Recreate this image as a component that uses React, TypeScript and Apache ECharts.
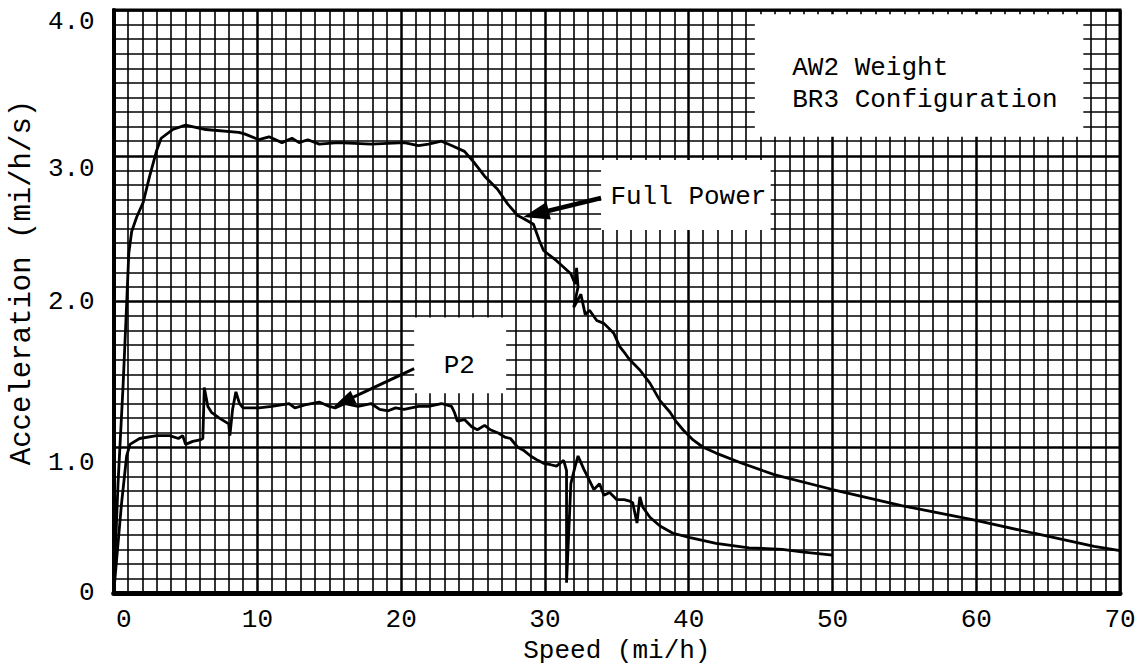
import React, { useEffect, useRef } from 'react';
import * as echarts from 'echarts';

// ---- data ----
const xTicks = [0, 10, 20, 30, 40, 50, 60, 70];
const yTickLabels = ['0', '1.0', '2.0', '3.0', '4.0'];
const xName = 'Speed (mi/h)';
const yName = 'Acceleration (mi/h/s)';

const fullPowerSpeed = [
  0, 0.3, 0.65, 0.85, 1.05, 1.25, 1.6, 2.05, 2.5, 3.0, 3.3, 4.1, 5.0, 6.4, 8.7, 9.1,
  10.1, 10.8, 11.7, 12.4, 12.9, 13.5, 14.3, 15.6, 17.9, 20.2, 21.2, 21.9, 22.8, 23.5,
  24.4, 25.1, 25.8, 26.7, 27.4, 28.1, 28.5, 29.2, 29.6, 29.9, 30.8, 31.8, 32.1, 32.2,
  32.3, 32.0, 32.5, 32.8, 33.1, 33.6, 34.1, 34.8, 35.2, 35.6, 35.9, 36.6, 37.3, 38.0,
  38.7, 39.1, 39.6, 40.3, 41.0, 41.9, 43.7, 46.0, 50.0, 54.8, 59.9, 64.0, 68.2, 70.0,
];
const fullPowerAccel = [
  0, 0.75, 1.42, 1.87, 2.33, 2.48, 2.58, 2.68, 2.86, 3.04, 3.12, 3.18, 3.21, 3.18, 3.16, 3.15,
  3.11, 3.13, 3.09, 3.12, 3.09, 3.11, 3.08, 3.09, 3.08, 3.09, 3.07, 3.08, 3.10, 3.07,
  3.03, 2.95, 2.86, 2.77, 2.67, 2.59, 2.57, 2.53, 2.42, 2.35, 2.28, 2.19, 2.12, 2.23,
  2.10, 1.96, 2.05, 1.91, 1.94, 1.87, 1.85, 1.78, 1.69, 1.64, 1.60, 1.53, 1.44, 1.32,
  1.24, 1.18, 1.12, 1.05, 1.00, 0.96, 0.89, 0.81, 0.71, 0.60, 0.50, 0.41, 0.32, 0.29,
];

const p2Speed = [
  0, 0.55, 0.9, 1.13, 1.8, 3.0, 3.9, 4.5, 4.8, 5.0, 5.5, 6.0, 6.2, 6.3, 6.55, 6.8, 7.35,
  8.0, 8.08, 8.27, 8.5, 8.75, 9.0, 10.1, 11.0, 12.2, 12.6, 13.3, 14.3, 15.0, 15.4, 16.1,
  17.0, 17.9, 18.5, 19.1, 19.6, 20.2, 21.2, 21.9, 22.8, 23.5, 23.7, 23.9, 24.4, 24.9,
  25.3, 25.8, 26.2, 26.7, 27.2, 27.6, 28.1, 28.5, 29.0, 29.5, 29.9, 30.4, 30.8, 31.3,
  31.5, 31.5, 31.7, 31.8, 32.1, 32.3, 32.7, 33.2, 33.4, 33.8, 34.1, 34.5, 35.0, 35.5,
  35.9, 36.1, 36.4, 36.6, 36.8, 37.3, 38.0, 38.9, 40.1, 41.9, 44.2, 46.5, 48.0, 50.0,
];
const p2Accel = [
  0, 0.62, 0.94, 1.02, 1.06, 1.08, 1.08, 1.06, 1.08, 1.02, 1.04, 1.05, 1.06, 1.41, 1.28, 1.24, 1.20,
  1.16, 1.08, 1.26, 1.38, 1.30, 1.27, 1.27, 1.28, 1.30, 1.27, 1.29, 1.31, 1.28, 1.27, 1.30,
  1.28, 1.30, 1.26, 1.25, 1.27, 1.26, 1.28, 1.28, 1.30, 1.28, 1.24, 1.18, 1.19, 1.14,
  1.12, 1.15, 1.12, 1.10, 1.07, 1.06, 1.00, 0.98, 0.94, 0.91, 0.89, 0.88, 0.87, 0.91,
  0.84, 0.07, 0.52, 0.75, 0.87, 0.94, 0.85, 0.75, 0.71, 0.75, 0.67, 0.69, 0.64, 0.64,
  0.63, 0.62, 0.48, 0.66, 0.59, 0.52, 0.46, 0.41, 0.38, 0.34, 0.31, 0.30, 0.28, 0.26,
];

const noteFullPower = 'Full Power';
const noteP2 = 'P2';
const noteBox = ['AW2 Weight', 'BR3 Configuration'];

// ---- styles ----
const FONT = '"Liberation Mono", "Courier New", Courier, monospace';
const FS = 26;

export default function App() {
  const ref = useRef<HTMLDivElement>(null);

  useEffect(() => {
    const el = ref.current as HTMLDivElement;
    const chart = echarts.init(el, null, { renderer: 'svg' });

    const tok = (pad: number[]) => ({ fontFamily: FONT, fontSize: FS, color: '#000', padding: pad });
    const yRichName: Record<string, string> = { '4.0': 'a', '3.0': 'b', '2.0': 'n', '1.0': 'c', '0': 'n' };

    const option: any = {
      animation: false,
      backgroundColor: '#fff',
      grid: {
        left: 107, right: 21, top: 10, bottom: 77,
        show: true, borderColor: '#000', borderWidth: 3, backgroundColor: '#fff',
      },
      xAxis: {
        type: 'value', min: xTicks[0], max: xTicks[xTicks.length - 1], interval: 10,
        name: xName, nameLocation: 'middle', nameGap: 41,
        nameTextStyle: { fontFamily: FONT, fontSize: FS, color: '#000' },
        axisLine: { show: true, onZero: false, lineStyle: { color: '#000', width: 5 } },
        axisTick: { show: false },
        axisLabel: {
          margin: 14, fontFamily: FONT, fontSize: FS, color: '#000',
          formatter: (v: number) => (v === 0 ? '{z|0}' : '{n|' + String(v) + '}'),
          rich: { z: tok([0, 0, 0, 20]), n: tok([0, 0, 0, 0]) },
        },
        splitLine: { show: true, lineStyle: { color: '#000', width: 2.5 } },
        minorTick: { show: false, splitNumber: 10 },
        minorSplitLine: { show: true, lineStyle: { color: '#000', width: 1.6 } },
      },
      yAxis: {
        type: 'value', min: 0, max: 4, interval: 1,
        name: yName, nameLocation: 'middle', nameGap: 76,
        nameTextStyle: { fontFamily: FONT, fontSize: 29, color: '#000', padding: [0, 0, 0, 38] },
        axisLine: { show: true, onZero: false, lineStyle: { color: '#000', width: 4 } },
        axisTick: { show: false },
        axisLabel: {
          margin: 19, fontFamily: FONT, fontSize: FS, color: '#000',
          formatter: (v: number) => {
            const t = yTickLabels[Math.round(v)];
            return '{' + yRichName[t] + '|' + t + '}';
          },
          rich: {
            a: tok([24, 0, 0, 0]), b: tok([26, 0, 0, 0]), c: tok([32, 0, 0, 0]), n: tok([0, 0, 0, 0]),
          },
        },
        splitLine: { show: true, lineStyle: { color: '#000', width: 2.5 } },
        minorTick: { show: false, splitNumber: 10 },
        minorSplitLine: { show: true, lineStyle: { color: '#000', width: 1.6 } },
      },
      series: [
        {
          name: 'Full Power', type: 'line', showSymbol: false, symbol: 'none',
          data: fullPowerSpeed.map((v, i) => [v, fullPowerAccel[i]]),
          lineStyle: { color: '#000', width: 2.8 }, z: 5,
        },
        {
          name: 'P2', type: 'line', showSymbol: false, symbol: 'none',
          data: p2Speed.map((v, i) => [v, p2Accel[i]]),
          lineStyle: { color: '#000', width: 2.8 }, z: 5,
        },
      ],
    };
    chart.setOption(option);

    const px = (v: number, a: number) => chart.convertToPixel({ gridIndex: 0 }, [v, a]) as number[];
    const box = (v1: number, a1: number, v2: number, a2: number) => {
      const [x1, y1] = px(v1, a1);
      const [x2, y2] = px(v2, a2);
      return { type: 'rect', shape: { x: x1, y: y1, width: x2 - x1, height: y2 - y1 }, style: { fill: '#fff' }, z: 10 };
    };
    const text = (t: string, v: number, a: number) => {
      const [x, y] = px(v, a);
      return {
        type: 'text', x, y, z: 15,
        style: { text: t, fontFamily: FONT, fontSize: FS, fill: '#000', align: 'left', verticalAlign: 'middle' },
      };
    };
    const arrow = (tail: number[], tip: number[], w: number, hl: number, hw: number) => {
      const [x1, y1] = px(tail[0], tail[1]);
      const [x2, y2] = px(tip[0], tip[1]);
      const dx = x2 - x1, dy = y2 - y1;
      const len = Math.hypot(dx, dy);
      const ux = dx / len, uy = dy / len;
      const bx = x2 - ux * hl, by = y2 - uy * hl;
      const nx = -uy, ny = ux;
      return [
        { type: 'line', z: 20, shape: { x1, y1, x2: bx + ux * 2, y2: by + uy * 2 }, style: { stroke: '#000', lineWidth: w } },
        {
          type: 'polygon', z: 20,
          shape: { points: [[x2, y2], [bx + nx * hw, by + ny * hw], [bx - nx * hw, by - ny * hw]] },
          style: { fill: '#000' },
        },
      ];
    };

    chart.setOption({
      graphic: [
        box(44.6, 3.97, 67.45, 3.13),
        text(noteBox[0], 47.2, 3.6),
        text(noteBox[1], 47.2, 3.38),
        box(33.9, 2.97, 45.7, 2.49),
        text(noteFullPower, 34.55, 2.72),
        ...arrow([33.9, 2.71], [28.5, 2.58], 4.5, 26, 9),
        box(20.9, 1.89, 27.3, 1.37),
        text(noteP2, 22.95, 1.56),
        ...arrow([20.9, 1.54], [15.3, 1.28], 3, 22, 7),
      ],
    });

    return () => chart.dispose();
  }, []);

  return (
    <div
      ref={ref}
      style={{ position: 'absolute', left: 0, top: 0, width: 1141, height: 670, background: '#fff' }}
    />
  );
}
